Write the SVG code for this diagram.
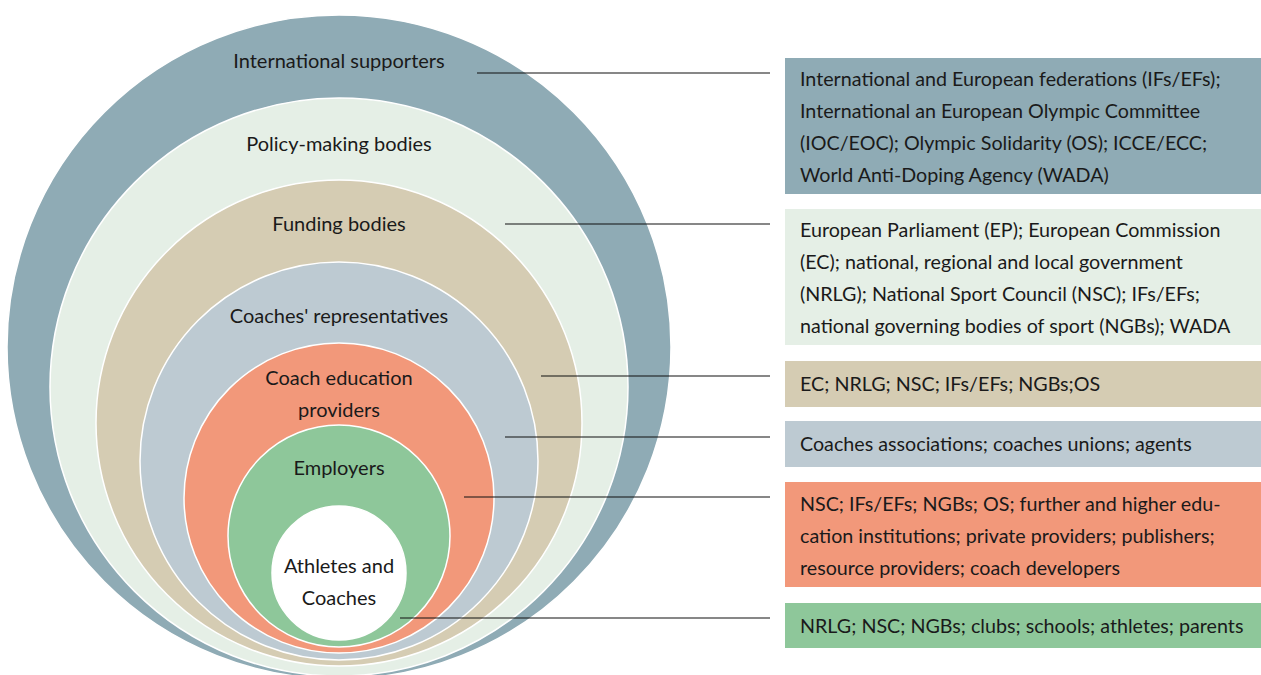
<svg xmlns="http://www.w3.org/2000/svg" width="1261" height="675" viewBox="0 0 1261 675">
  <style>
    text { font-family: Lato, "Liberation Sans", sans-serif; font-size: 19.7px; fill: #1a1a1a; }
    .ring { stroke: #ffffff; stroke-width: 1.5; }
    .mid { text-anchor: middle; font-size: 20px; }
    .lead { stroke: #111; stroke-width: 1.2; fill: none; }
  </style>

  <!-- nested rings -->
  <g id="ring-international">
    <circle class="ring" cx="339" cy="347" r="332" fill="#8FABB5"/>
    <text class="mid" x="339" y="68">International supporters</text>
  </g>
  <g id="ring-policy">
    <circle class="ring" cx="339" cy="387" r="289" fill="#E5EFE6"/>
    <text class="mid" x="339" y="151">Policy-making bodies</text>
  </g>
  <g id="ring-funding">
    <circle class="ring" cx="339" cy="423" r="243" fill="#D5CCB3"/>
    <text class="mid" x="339" y="231">Funding bodies</text>
  </g>
  <g id="ring-representatives">
    <circle class="ring" cx="339" cy="461" r="199" fill="#BDCAD2"/>
    <text class="mid" x="339" y="323">Coaches' representatives</text>
  </g>
  <g id="ring-education">
    <circle class="ring" cx="339" cy="498" r="155" fill="#F2987A"/>
    <text class="mid" x="339" y="385">Coach education</text>
    <text class="mid" x="339" y="417">providers</text>
  </g>
  <g id="ring-employers">
    <circle class="ring" cx="339" cy="536" r="111" fill="#8EC79A"/>
    <text class="mid" x="339" y="475">Employers</text>
  </g>
  <g id="ring-athletes">
    <circle class="ring" cx="339" cy="573" r="67" fill="#FFFFFF"/>
    <text class="mid" x="339" y="573">Athletes and</text>
    <text class="mid" x="339" y="605">Coaches</text>
  </g>

  <!-- leader lines -->
  <g id="connectors">
    <line class="lead" x1="477" y1="73" x2="770" y2="73"/>
    <line class="lead" x1="505" y1="224" x2="770" y2="224"/>
    <line class="lead" x1="541" y1="376" x2="770" y2="376"/>
    <line class="lead" x1="505" y1="437" x2="770" y2="437"/>
    <line class="lead" x1="464" y1="497" x2="770" y2="497"/>
    <line class="lead" x1="400" y1="618" x2="770" y2="618"/>
  </g>

  <!-- member boxes -->
  <g id="box-international">
    <rect x="785" y="58" width="476" height="136" fill="#8FABB5"/>
    <text x="800" y="86">International and European federations (IFs/EFs);</text>
    <text x="800" y="118">International an European Olympic Committee</text>
    <text x="800" y="150">(IOC/EOC); Olympic Solidarity (OS); ICCE/ECC;</text>
    <text x="800" y="182">World Anti-Doping Agency (WADA)</text>
  </g>
  <g id="box-policy">
    <rect x="785" y="209" width="476" height="136" fill="#E5EFE6"/>
    <text x="800" y="237">European Parliament (EP); European Commission</text>
    <text x="800" y="269">(EC); national, regional and local government</text>
    <text x="800" y="301">(NRLG); National Sport Council (NSC); IFs/EFs;</text>
    <text x="800" y="333">national governing bodies of sport (NGBs); WADA</text>
  </g>
  <g id="box-funding">
    <rect x="785" y="361" width="476" height="46" fill="#D5CCB3"/>
    <text x="800" y="391">EC; NRLG; NSC; IFs/EFs; NGBs;OS</text>
  </g>
  <g id="box-representatives">
    <rect x="785" y="421" width="476" height="46" fill="#BDCAD2"/>
    <text x="800" y="451">Coaches associations; coaches unions; agents</text>
  </g>
  <g id="box-education">
    <rect x="785" y="482" width="476" height="105" fill="#F2987A"/>
    <text x="800" y="511">NSC; IFs/EFs; NGBs; OS; further and higher edu-</text>
    <text x="800" y="543">cation institutions; private providers; publishers;</text>
    <text x="800" y="575">resource providers; coach developers</text>
  </g>
  <g id="box-employers">
    <rect x="785" y="603" width="476" height="45" fill="#8EC79A"/>
    <text x="800" y="633">NRLG; NSC; NGBs; clubs; schools; athletes; parents</text>
  </g>
</svg>
